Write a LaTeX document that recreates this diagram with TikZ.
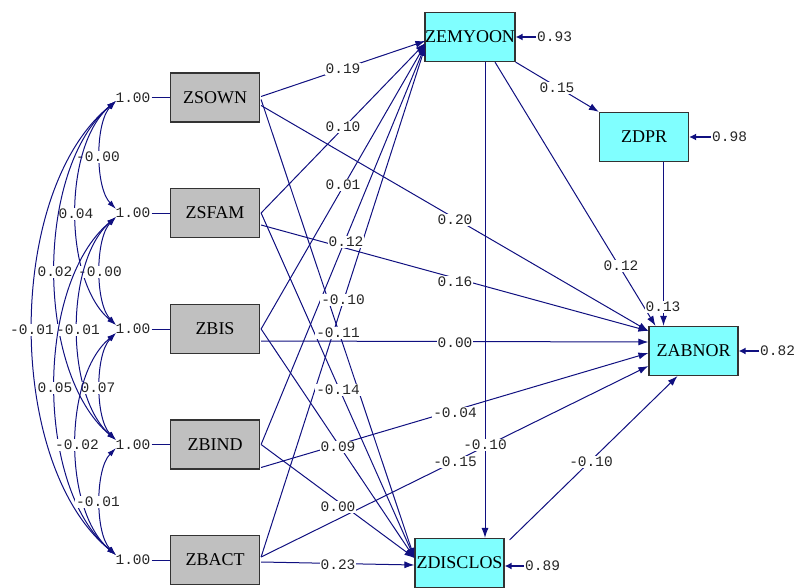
\documentclass[tikz,border=0pt]{standalone}
\usepackage{fontspec}
\setmainfont{Liberation Serif}
\newfontfamily\coeffont{Liberation Mono}
\usetikzlibrary{arrows.meta,calc}

\definecolor{pathblue}{RGB}{16,16,128}
\definecolor{exogray}{RGB}{192,192,192}
\definecolor{endocyan}{RGB}{128,255,255}

\tikzset{
  var/.style={draw=black!80, line width=1.2pt, minimum width=89pt,
    minimum height=49pt, inner sep=0pt, font=\fontsize{18}{20}\selectfont},
  exo/.style={var, fill=exogray},
  endo/.style={var, fill=endocyan},
  coef/.style={fill=white, inner sep=1pt, text=black!85,
    font=\coeffont\fontsize{14.5}{15}\selectfont},
  unit/.style={inner sep=1pt, text=black!85,
    font=\coeffont\fontsize{14.5}{15}\selectfont},
  link/.style={draw=pathblue, line width=1pt, -{Latex[length=10pt,width=7pt]}},
  errlink/.style={draw=pathblue, line width=1.6pt, -{Latex[length=7pt,width=7pt]}},
  corr/.style={draw=pathblue, line width=1pt,
    {Latex[length=9pt,width=5.5pt]}-{Latex[length=9pt,width=5.5pt]}},
  plain/.style={draw=pathblue, line width=1pt},
}

\begin{document}
\begin{tikzpicture}[x=1pt,y=-1pt]
\useasboundingbox (0,0) rectangle (794,588);

% observed variables
\node[exo] (own)  at (215,97.5)  {ZSOWN};
\node[exo] (fam)  at (215,213)   {ZSFAM};
\node[exo] (bis)  at (215,329)   {ZBIS};
\node[exo] (bind) at (215,444.5) {ZBIND};
\node[exo] (bact) at (215,560)   {ZBACT};

\node[endo] (emy) at (470,37)    {ZEMYOON};
\node[endo] (dpr) at (644,137)   {ZDPR};
\node[endo] (abn) at (693.5,351) {ZABNOR};
\node[endo] (dis) at (459.5,563) {ZDISCLOS};

% unit variances of the exogenous variables
\foreach \v/\y in {own/97.5,fam/213,bis/329,bind/444.5,bact/560}{
  \node[unit] (u\v) at (133,\y) {1.00};
  \draw[plain] (u\v.east) -- (\v.west);
}

% ends of the covariance arcs
\coordinate (ownB)  at (116,101);
\coordinate (famT)  at (116,209);
\coordinate (famB)  at (116,217);
\coordinate (bisT)  at (116,325);
\coordinate (bisB)  at (116,333);
\coordinate (bindT) at (116,440);
\coordinate (bindB) at (116,448);
\coordinate (bactT) at (116,555);

% covariance arcs: start, end, x of control points, label x, label y, value
\foreach \a/\b/\c/\ya/\yb/\lx/\ly/\val in {
  ownB/famT/95/101/209/98/157/-0.00,
  ownB/bisT/63/101/325/76/214/0.04,
  famB/bisT/95/217/325/100/272/-0.00,
  ownB/bindT/35/101/440/55/272/0.02,
  ownB/bactT/5/101/555/32/330/-0.01,
  famB/bindT/65/217/440/78/330/-0.01,
  famB/bactT/35/217/555/55/388/0.05,
  bisB/bindT/95/333/440/98/388/0.07,
  bisB/bactT/63/333/555/77/445/-0.02,
  bindB/bactT/95/448/555/98/502/-0.01}{
  \pgfmathsetmacro{\k}{0.2*(\yb-\ya)}
  \draw[corr] (\a) .. controls (\c,\ya+\k) and (\c,\yb-\k) .. (\b);
  \node[coef] at (\lx,\ly) {\val};
}

% start points on the exogenous boxes
\coordinate (ownE1)  at ($(own.east)+(1,-1)$);
\coordinate (ownE2)  at ($(own.east)+(1,2)$);
\coordinate (ownE3)  at ($(own.east)+(1,8)$);
\coordinate (famE1)  at ($(fam.east)+(1,0)$);
\coordinate (famE3)  at ($(fam.east)+(1,12)$);
\coordinate (bisE1)  at ($(bis.east)+(1,0)$);
\coordinate (bisE3)  at ($(bis.east)+(1,12)$);
\coordinate (bindE1) at ($(bind.east)+(1,0)$);
\coordinate (bindE3) at ($(bind.east)+(1,23)$);
\coordinate (bactE1) at ($(bact.east)+(1,-3)$);
\coordinate (bactE2) at ($(bact.east)+(1,2)$);

% end points on the endogenous boxes
\coordinate (emyW1) at ($(emy.west)+(1,4)$);
\coordinate (emyW2) at ($(emy.west)+(1,6)$);
\coordinate (emyW3) at ($(emy.west)+(1,7)$);
\coordinate (emyW4) at ($(emy.west)+(1,8)$);
\coordinate (emyW5) at ($(emy.west)+(1,9)$);
\coordinate (disW1) at ($(dis.west)+(0,-5)$);
\coordinate (disW2) at ($(dis.west)+(0,2)$);
\coordinate (abnW1) at ($(abn.west)+(0,-20)$);
\coordinate (abnW2) at ($(abn.west)+(0,-9)$);
\coordinate (abnW3) at ($(abn.west)+(0,2)$);
\coordinate (abnW4) at ($(abn.west)+(0,15)$);
\coordinate (abnN1) at ($(abn.north)+(-38,0)$);
\coordinate (abnN2) at ($(abn.north)+(-30,0)$);
\coordinate (abnS)  at ($(abn.south)+(-16,0)$);
\coordinate (emyS1) at ($(emy.south)+(15,0)$);
\coordinate (emyS2) at ($(emy.south)+(25,0)$);
\coordinate (disN)  at ($(dis.north)+(25.5,0)$);
\coordinate (disNE) at ($(dis.north east)+(5,2)$);

% paths to ZEMYOON
\draw[link] (ownE1)  -- (emyW1);
\draw[link] (famE1)  -- (emyW2);
\draw[link] (bisE1)  -- (emyW3);
\draw[link] (bindE1) -- (emyW4);
\draw[link] (bactE1) -- (emyW5);

% paths to ZDISCLOS
\draw[link] (ownE2)  -- (disW1);
\draw[link] (famE1)  -- (disW1);
\draw[link] (bisE1)  -- (disW1);
\draw[link] (bindE1) -- (disW1);
\draw[link] (bactE2) -- (disW2);

% paths to ZABNOR
\draw[link] (ownE3)  -- (abnW1);
\draw[link] (famE3)  -- (abnW1);
\draw[link] (bisE3)  -- (abnW2);
\draw[link] (bindE3) -- (abnW3);
\draw[link] (bactE1) -- (abnW4);

% paths among the endogenous variables
\draw[link] (emy.south east) -- (dpr.north west);
\draw[link] (emyS2) -- (abnN1);
\draw[link] (emyS1) -- (disN);
\draw[link] (dpr.south -| abnN2) -- (abnN2);
\draw[link] (disNE) -- (abnS);

% coefficients
\node[coef] at (343,69)  {0.19};
\node[coef] at (343,127) {0.10};
\node[coef] at (343,185) {0.01};
\node[coef] at (346,242) {0.12};
\node[coef] at (343,300) {-0.10};
\node[coef] at (338,333) {-0.11};
\node[coef] at (338,390) {-0.14};
\node[coef] at (338,447) {0.09};
\node[coef] at (338,507) {0.00};
\node[coef] at (338,565) {0.23};
\node[coef] at (455,220) {0.20};
\node[coef] at (455,282) {0.16};
\node[coef] at (455,343) {0.00};
\node[coef] at (455,413) {-0.04};
\node[coef] at (455,462) {-0.15};
\node[coef] at (557,88)  {0.15};
\node[coef] at (621,266) {0.12};
\node[coef] at (663,307) {0.13};
\node[coef] at (485,445) {-0.10};
\node[coef] at (591,462) {-0.10};

% residual variances
\node[unit, anchor=west] (r1) at (536,37)  {0.93};
\node[unit, anchor=west] (r2) at (711,137) {0.98};
\node[unit, anchor=west] (r3) at (759,351) {0.82};
\node[unit, anchor=west] (r4) at (524,566) {0.89};
\draw[errlink] (r1.west) -- (emy.east |- r1.west);
\draw[errlink] (r2.west) -- (dpr.east |- r2.west);
\draw[errlink] (r3.west) -- (abn.east |- r3.west);
\draw[errlink] (r4.west) -- (dis.east |- r4.west);
\end{tikzpicture}
\end{document}
